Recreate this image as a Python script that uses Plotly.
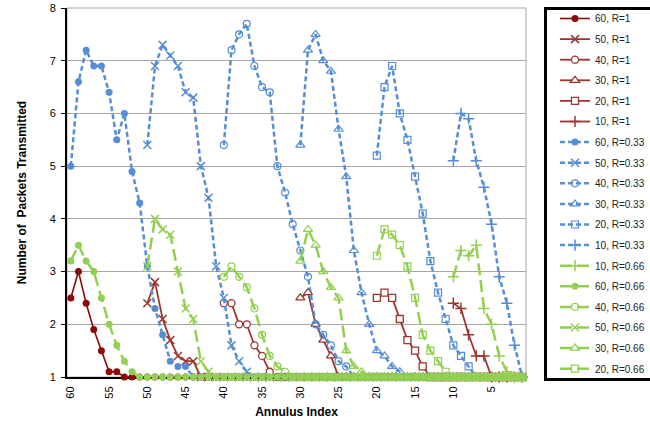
import plotly.graph_objects as go

# ---- categories (annulus index, shown reversed) ----
annulus = list(range(60, 0, -1))
tick_vals = [60, 55, 50, 45, 40, 35, 30, 25, 20, 15, 10, 5]

floor10 = [1.0, 1.0, 1.0, 1.0, 1.0, 1.0, 1.0, 1.0, 1.0, 1.0]

# ---- R = 1 ----
r1_60 = [2.5, 3.0, 2.4, 1.9, 1.5, 1.1, 1.1, 1.0, 1.0, 1.0] + floor10 + floor10 + floor10 + floor10 + floor10
r1_50 = [2.4, 2.8, 2.1, 1.7, 1.4, 1.3, 1.3, 1.0, 1.0, 1.0] + floor10 + floor10 + floor10 + floor10
r1_40 = [2.4, 2.4, 2.0, 2.0, 1.6, 1.4, 1.1, 1.0, 1.0, 1.0] + floor10 + floor10 + floor10
r1_30 = [2.5, 2.6, 2.0, 1.7, 1.4, 1.0, 1.0, 1.0, 1.0, 1.0] + floor10 + floor10
r1_20 = [2.5, 2.6, 2.5, 2.1, 1.7, 1.5, 1.2, 1.0, 1.0, 1.0] + floor10
r1_10 = [2.4, 2.3, 1.8, 1.4, 1.4, 1.0, 1.0, 1.0, 1.0, 1.0]

# ---- R = 0.33 ----
r33_60 = ([5.0, 6.6, 7.2, 6.9, 6.9, 6.4, 5.5, 6.0, 4.9, 4.3]
          + [3.1, 2.3, 1.8, 1.3, 1.2, 1.2, 1.0, 1.0, 1.0, 1.0]
          + floor10 + floor10 + floor10 + floor10)
r33_50 = ([5.4, 6.9, 7.3, 7.1, 6.9, 6.4, 6.3, 5.0, 4.4, 3.1]
          + [2.5, 1.6, 1.3, 1.1, 1.0, 1.0, 1.0, 1.0, 1.0, 1.0]
          + floor10 + floor10 + floor10)
r33_40 = ([5.4, 7.2, 7.5, 7.7, 6.9, 6.5, 6.4, 5.0, 4.5, 3.9]
          + [3.4, 2.9, 2.0, 1.8, 1.6, 1.3, 1.2, 1.0, 1.0, 1.0]
          + floor10 + floor10)
r33_30 = ([5.4, 7.2, 7.5, 7.0, 6.8, 5.7, 4.8, 3.4, 2.6, 2.0]
          + [1.5, 1.4, 1.2, 1.1, 1.0, 1.0, 1.0, 1.0, 1.0, 1.0]
          + floor10)
r33_20 = ([5.2, 6.5, 6.9, 6.0, 5.5, 4.8, 4.1, 3.2, 2.6, 2.1]
          + [1.6, 1.4, 1.2, 1.0, 1.0, 1.0, 1.0, 1.0, 1.0, 1.0])
r33_10 = [5.1, 6.0, 5.9, 5.1, 4.6, 3.9, 2.9, 2.4, 1.6, 1.0]

# ---- R = 0.66 ----
r66_10 = [2.9, 3.4, 3.3, 3.5, 2.3, 2.0, 1.4, 1.1, 1.0, 1.0]
r66_60 = [3.2, 3.5, 3.2, 3.0, 2.5, 2.0, 1.6, 1.3, 1.1, 1.0] + floor10 + floor10 + floor10 + floor10 + floor10
r66_40 = [2.9, 3.1, 2.9, 2.7, 2.3, 1.8, 1.4, 1.2, 1.1, 1.0] + floor10 + floor10 + floor10
r66_50 = [3.1, 4.0, 3.8, 3.7, 3.0, 2.3, 2.1, 1.3, 1.1, 1.0] + floor10 + floor10 + floor10 + floor10
r66_30 = [3.2, 3.8, 3.5, 3.0, 2.7, 2.5, 1.5, 1.2, 1.1, 1.0] + floor10 + floor10
r66_20 = [3.3, 3.8, 3.7, 3.5, 3.1, 2.5, 1.8, 1.5, 1.3, 1.1] + floor10

DARK_RED = "#8C0A0A"
RED = "#9E3530"
BLUE = "#558ED5"
GREEN = "#92D050"

# (name, start index, values, color, dash, width, marker symbol, filled-white?)
series = [
    ("60, R=1", 60, r1_60, DARK_RED, "solid", 1.6, "circle", None),
    ("50, R=1", 50, r1_50, RED, "solid", 1.8, "x-thin", None),
    ("40, R=1", 40, r1_40, RED, "solid", 1.8, "circle", "white"),
    ("30, R=1", 30, r1_30, RED, "solid", 1.8, "triangle-up", "white"),
    ("20, R=1", 20, r1_20, RED, "solid", 1.8, "square", "white"),
    ("10, R=1", 10, r1_10, RED, "solid", 1.8, "cross-thin", None),
    ("60, R=0.33", 60, r33_60, BLUE, "5px,3px", 2.5, "circle", None),
    ("50, R=0.33", 50, r33_50, BLUE, "5px,3px", 2.5, "x-thin", None),
    ("40, R=0.33", 40, r33_40, BLUE, "5px,3px", 2.5, "circle-open", None),
    ("30, R=0.33", 30, r33_30, BLUE, "5px,3px", 2.5, "triangle-up-open", None),
    ("20, R=0.33", 20, r33_20, BLUE, "5px,3px", 2.5, "square-open", None),
    ("10, R=0.33", 10, r33_10, BLUE, "5px,3px", 2.5, "cross-thin", None),
    ("10, R=0.66", 10, r66_10, GREEN, "12px,5px", 2.5, "cross-thin", None),
    ("60, R=0.66", 60, r66_60, GREEN, "12px,5px", 2.5, "circle", None),
    ("40, R=0.66", 40, r66_40, GREEN, "12px,5px", 2.5, "circle-open", None),
    ("50, R=0.66", 50, r66_50, GREEN, "12px,5px", 2.5, "x-thin", None),
    ("30, R=0.66", 30, r66_30, GREEN, "12px,5px", 2.5, "triangle-up-open", None),
    ("20, R=0.66", 20, r66_20, GREEN, "12px,5px", 2.5, "square-open", None),
]

fig = go.Figure()
for i, (name, start, vals, color, dash, width, sym, fill) in enumerate(series):
    k = 60 - start
    xs = annulus[k:k + len(vals)]
    size = 7
    if sym.startswith("triangle"):
        size = 8
    if sym in ("cross-thin", "x-thin"):
        size = 8
    if fill is not None:
        marker = dict(symbol=sym, size=size, color=fill, line=dict(color=color, width=1.3))
    elif sym in ("cross-thin", "x-thin"):
        marker = dict(symbol=sym, size=size, color=color, line=dict(color=color, width=1.5))
    elif sym.endswith("-open"):
        marker = dict(symbol=sym, size=size, color=color, line=dict(color=color, width=1.2))
    else:
        marker = dict(symbol=sym, size=size, color=color, line=dict(width=0))
    fig.add_trace(go.Scatter(
        x=xs, y=vals, name=name, mode="lines+markers",
        line=dict(color=color, width=width, dash=dash),
        marker=marker, cliponaxis=False, legendgroup="g%d" % i,
    ))

FONT = "Liberation Sans, Arial, sans-serif"
PLOT_TOP = 1 - 8 / 377  # plot area top sits 8 px below the page top

fig.update_layout(
    width=650, height=425,
    margin=dict(l=67, r=124, t=0, b=48, pad=0, autoexpand=False),
    paper_bgcolor="white", plot_bgcolor="white",
    font=dict(family=FONT, size=11, color="black"),
    showlegend=True,
    legend=dict(
        x=1.0632, y=1 - 4 / 377, xanchor="left", yanchor="top",
        bgcolor="rgba(0,0,0,0)", borderwidth=0,
        font=dict(family=FONT, size=10, color="#222222"),
        tracegroupgap=1.6, itemwidth=30, maxheight=425,
    ),
    xaxis=dict(
        range=[60.5, 0.5], tickmode="array", tickvals=tick_vals,
        tickangle=-90, showgrid=False, zeroline=False,
        showline=True, linecolor="black", linewidth=2,
        ticks="", tickfont=dict(size=11), ticklabelstandoff=3,
        title=dict(text="<b>Annulus Index</b>", font=dict(size=12), standoff=10),
        layer="below traces",
    ),
    yaxis=dict(
        domain=[0, PLOT_TOP],
        range=[1, 8], dtick=1, tick0=1,
        showgrid=True, gridcolor="#A6A6A6", gridwidth=1, zeroline=False,
        showline=True, linecolor="black", linewidth=2,
        ticks="outside", ticklen=4, tickcolor="black", tickfont=dict(size=11),
        ticklabelstandoff=3,
        title=dict(text="<b>Number of&#160; Packets Transmitted</b>", font=dict(size=12), standoff=20),
        layer="below traces",
    ),
    shapes=[
        dict(type="rect", xref="paper", yref="paper", x0=0, x1=1, y0=0, y1=PLOT_TOP,
             line=dict(color="#A6A6A6", width=1), layer="below"),
        dict(type="rect", xref="paper", yref="paper", x0=1.0425, x1=1.35,
             y0=-2.5 / 377, y1=1 - 8.5 / 377,
             line=dict(color="black", width=3), fillcolor="rgba(0,0,0,0)", layer="above"),
    ],
)

fig.write_html("out.html", config={"displayModeBar": False},
               post_script="document.body.style.margin='0';")
